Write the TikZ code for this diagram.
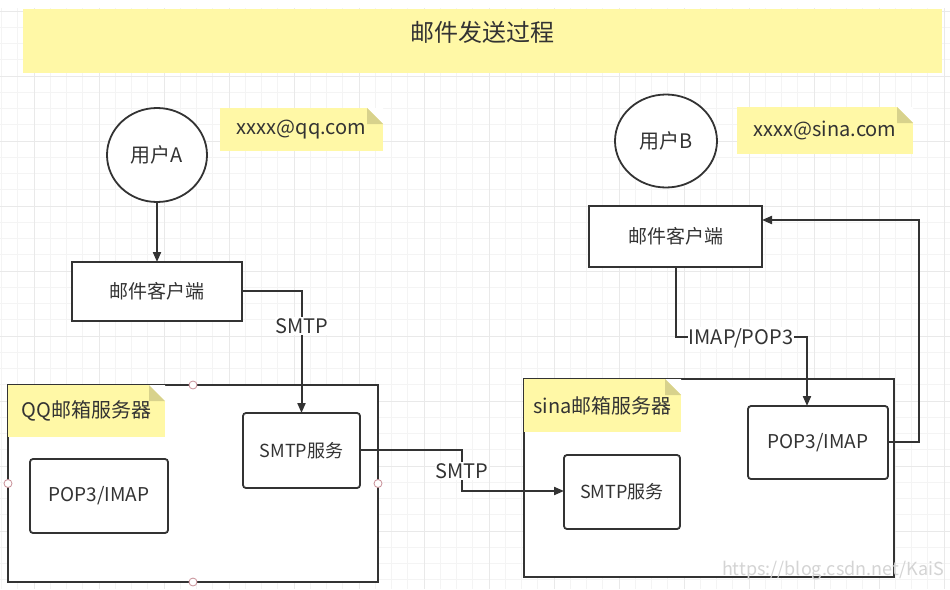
\documentclass[tikz,border=0pt]{standalone}
\usepackage{fontspec}
\setmainfont{Noto Sans CJK SC}
\usetikzlibrary{arrows.meta,shapes.geometric}
\definecolor{noteY}{HTML}{FFF8A6}
\definecolor{foldC}{HTML}{D8D28C}
\definecolor{lineC}{HTML}{333333}
\definecolor{txtC}{HTML}{333333}
\definecolor{gridMinor}{HTML}{F4F4F4}
\definecolor{gridMajor}{HTML}{E9E9E9}
\definecolor{handleC}{HTML}{C89098}
\newcommand\myfs[1]{\fontsize{#1}{#1}\selectfont}
\begin{document}
\begin{tikzpicture}[x=1pt,y=-1pt,
  every node/.style={text=txtC, inner sep=0pt, outer sep=0pt},
  box/.style={draw=lineC, line width=1.8pt, fill=white, font=\myfs{19}},
  rbox/.style={box, rounded corners=3pt},
  user/.style={draw=lineC, line width=1.8pt, fill=white, ellipse, font=\myfs{20}},
  note/.style={fill=noteY, font=\myfs{20}, path picture={
     \fill[white] ([xshift=-16pt]path picture bounding box.north east) -- (path picture bounding box.north east) -- ([yshift=-16pt]path picture bounding box.north east) -- cycle;
     \fill[foldC] ([xshift=-16pt]path picture bounding box.north east) -- ([xshift=-16pt,yshift=-16pt]path picture bounding box.north east) -- ([yshift=-16pt]path picture bounding box.north east) -- cycle;}},
  conn/.style={draw=lineC, line width=2pt},
  arr/.style={conn, -{Triangle[length=10pt,width=8pt]}},
  lbl/.style={fill=white, font=\myfs{20}, inner sep=1pt},
  handle/.style={circle, draw=handleC, fill=white, line width=0.8pt, minimum size=8pt}
]
\useasboundingbox (0,0) rectangle (950,589);
\clip (0,0) rectangle (950,589);
\fill[white] (0,0) rectangle (950,589);
% grid
\foreach \i in {-2,...,56} {\draw[gridMinor, line width=0.8pt] ({34+16.25*\i},0) -- ({34+16.25*\i},589);}
\foreach \i in {-1,...,36} {\draw[gridMinor, line width=0.8pt] (0,{11+16.25*\i}) -- (950,{11+16.25*\i});}
\foreach \i in {0,...,14} {\draw[gridMajor, line width=1pt] ({34+65*\i},0) -- ({34+65*\i},589);}
\foreach \i in {0,...,9} {\draw[gridMajor, line width=1pt] (0,{11+65*\i}) -- (950,{11+65*\i});}
\fill[white] (0,0) rectangle (950,8);

% title
\node[fill=noteY, minimum width=919pt, minimum height=64pt] (titlebox) at (482.5,41) {};
\node[font=\myfs{24}] (title) at (482,32) {邮件发送过程};

% left side
\node[user, minimum width=100pt, minimum height=94pt] (userA) at (157,155) {用户A};
\node[note, minimum width=163pt, minimum height=43pt] (noteA) at (301.5,129.5) {xxxx@qq.com};
\node[box, minimum width=170pt, minimum height=59pt] (cliA) at (157,291.5) {邮件客户端};
\node[box, minimum width=370pt, minimum height=197pt] (qqsrv) at (193,483.5) {};
\node[note, minimum width=157pt, minimum height=52pt] (qqnote) at (86.5,411) {QQ邮箱服务器};
\node[rbox, minimum width=138pt, minimum height=74pt] (popA) at (99,496) {POP3/IMAP};
\node[rbox, minimum width=117pt, minimum height=75pt, font=\myfs{18}] (smtpA) at (301.5,450.5) {SMTP服务};
\node[handle] (h1) at (193,385) {};
\node[handle] (h2) at (8,483.5) {};
\node[handle] (h3) at (378,483.5) {};
\node[handle] (h4) at (193,582) {};

% right side
\node[user, minimum width=102pt, minimum height=93pt] (userB) at (666,141) {用户B};
\node[note, minimum width=176pt, minimum height=47pt] (noteB) at (825,130.5) {xxxx@sina.com};
\node[box, minimum width=173pt, minimum height=61pt] (cliB) at (675.5,236.5) {邮件客户端};
\node[box, minimum width=370pt, minimum height=198pt] (sinasrv) at (709,478) {};
\node[note, minimum width=157pt, minimum height=53pt] (sinanote) at (602.5,405.5) {sina邮箱服务器};
\node[rbox, minimum width=116pt, minimum height=74pt, font=\myfs{18}] (smtpB) at (622,492) {SMTP服务};
\node[rbox, minimum width=140pt, minimum height=73pt] (popB) at (818,442.5) {POP3/IMAP};

% connectors
\coordinate (c1) at (157,291);
\draw[arr] (userA.south) -- (cliA.north);
\draw[arr] ([yshift=0.5pt]cliA.east) -| (smtpA.north);
\node[lbl] (l1) at (302,326) {SMTP};
\coordinate (c3) at (462,471);
\draw[arr] ([yshift=0.5pt]smtpA.east) -| (c3) |- ([yshift=1pt]smtpB.west);
\node[lbl] (l2) at (c3) {SMTP};
\coordinate (c4) at (741,337);
\draw[arr] (cliB.south) |- (c4) -| ([xshift=-11pt]popB.north);
\node[lbl] (l3) at (741,338) {IMAP/POP3};
\draw[arr] ([yshift=0.5pt]popB.east) -- ++(31,0) |- ([yshift=16.5pt]cliB.east);

% watermark
\node[anchor=base west, text=black!17, font=\myfs{18}] (wm) at (722,575) {https://blog.csdn.net/KaiS};
\end{tikzpicture}
\end{document}
